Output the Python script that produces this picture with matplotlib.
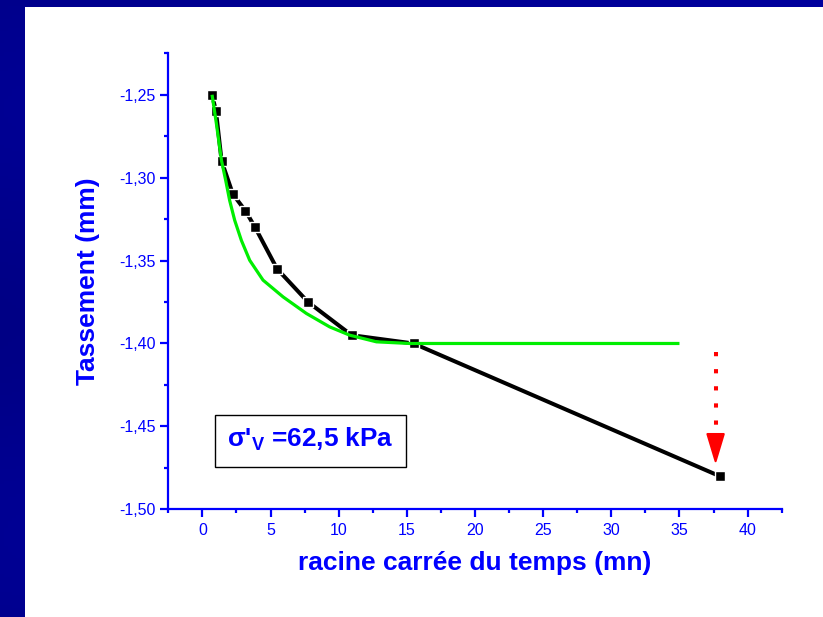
import matplotlib
matplotlib.use('Agg')
import matplotlib.pyplot as plt
import numpy as np
from matplotlib.patches import Rectangle, Polygon
from matplotlib.ticker import FixedLocator, FixedFormatter, MultipleLocator

plt.rcParams['font.family'] = ['Liberation Sans', 'DejaVu Sans']
plt.rcParams['mathtext.fontset'] = 'custom'
plt.rcParams['mathtext.rm'] = 'Liberation Sans:bold'
plt.rcParams['mathtext.bf'] = 'Liberation Sans:bold'

# ---- data ----
sqrt_time = [0.71, 1.0, 1.41, 2.24, 3.16, 3.87, 5.48, 7.75, 10.95, 15.49, 37.95]
settlement = [-1.250, -1.260, -1.290, -1.310, -1.320, -1.330, -1.355, -1.375,
              -1.395, -1.400, -1.480]

fit_x = [0.71, 1.03, 1.40, 1.71, 2.0, 2.37, 2.86, 3.47, 4.45, 5.92, 7.63,
         9.34, 10.81, 12.77, 15.2, 35.0]
fit_y = [-1.250, -1.2675, -1.2896, -1.3016, -1.3137, -1.3257, -1.3378, -1.3498,
         -1.3618, -1.3719, -1.3819, -1.390, -1.395, -1.399, -1.400, -1.400]

x_ticks = [0, 5, 10, 15, 20, 25, 30, 35, 40]
x_tick_labels = ["0", "5", "10", "15", "20", "25", "30", "35", "40"]
y_ticks = [-1.25, -1.30, -1.35, -1.40, -1.45, -1.50]
y_tick_labels = ["-1,25", "-1,30", "-1,35", "-1,40", "-1,45", "-1,50"]

arrow_x = 37.65
arrow_y_start = -1.405
arrow_y_head = -1.4546
arrow_y_tip = -1.471

box_text = "σ'$_\\mathbf{V}$ =62,5 kPa"
x_label = "racine carrée du temps (mn)"
y_label = "Tassement (mm)"

BLUE = '#0000FF'

fig = plt.figure(figsize=(8.23, 6.17), dpi=100)
fig.patch.set_facecolor('#00008C')

# background gradient (slide frame)
bg = fig.add_axes([0, 0, 1, 1], zorder=-10)
gx = np.linspace(0, 1, 200)
gy = np.linspace(0, 1, 200)
GX, GY = np.meshgrid(gx, gy)
val = 0.5 + 0.3 * GX + 0.12 * np.sin(GY * 9)
img = np.zeros((200, 200, 3))
img[..., 2] = 0.44 + 0.22 * val
bg.imshow(img, aspect='auto', extent=[0, 1, 0, 1])
bg.axis('off')

white = fig.add_axes([25 / 823, 0, 1 - 25 / 823, 1 - 7 / 617], zorder=-5)
white.set_facecolor('white')
white.set_xticks([]); white.set_yticks([])
for s in white.spines.values():
    s.set_visible(False)

ax = fig.add_axes([168.3 / 823, (617 - 509.3) / 617, 613.4 / 823, 456 / 617])
ax.set_facecolor('none')

ax.plot(sqrt_time, settlement, color='black', lw=2.9, marker='s', ms=7.2,
        mfc='black', mec='white', mew=1.0, zorder=3, solid_joinstyle='round')
ax.plot(fit_x, fit_y, color='#00EE00', lw=2.3, zorder=4, solid_capstyle='butt',
        solid_joinstyle='round')

# red dotted arrow
ax.plot([arrow_x, arrow_x], [arrow_y_start, arrow_y_head], color='#FF0000', lw=2.9,
        linestyle=(0, (1.05, 3.2)), dash_capstyle='butt', zorder=5)
hw = 0.6
head = Polygon([[arrow_x - hw, arrow_y_head], [arrow_x + hw, arrow_y_head],
                [arrow_x, arrow_y_tip]], closed=True, color='#FF0000', zorder=5,
               joinstyle='round', lw=1.5)
ax.add_patch(head)

ax.set_xlim(-2.5, 42.5)
ax.set_ylim(-1.50, -1.225)

for side in ['top', 'right']:
    ax.spines[side].set_visible(False)
for side in ['left', 'bottom']:
    ax.spines[side].set_color(BLUE)
    ax.spines[side].set_linewidth(1.6)

ax.xaxis.set_major_locator(FixedLocator(x_ticks))
ax.xaxis.set_major_formatter(FixedFormatter(x_tick_labels))
ax.yaxis.set_major_locator(FixedLocator(y_ticks))
ax.yaxis.set_major_formatter(FixedFormatter(y_tick_labels))
ax.xaxis.set_minor_locator(MultipleLocator(2.5))
ax.yaxis.set_minor_locator(MultipleLocator(0.025))

ax.tick_params(which='major', direction='out', length=5.8, width=1.6, color=BLUE,
               labelcolor=BLUE, labelsize=11.5)
ax.tick_params(which='minor', direction='out', length=3.0, width=1.6, color=BLUE)
ax.tick_params(axis='x', which='major', pad=4)
ax.tick_params(axis='y', which='major', pad=3.5)

# text box
ax.add_patch(Rectangle((0.0761, 0.0928), 0.3875 - 0.0761, 0.2068 - 0.0928,
                       transform=ax.transAxes, fill=False, ec='black', lw=1.0, zorder=6))
ax.text((0.0761 + 0.3875) / 2, (0.0928 + 0.2068) / 2 + 0.003, box_text,
        transform=ax.transAxes, ha='center', va='center', color=BLUE,
        fontsize=18.8, fontweight='bold', zorder=7)

fig.text(475 / 823, 1 - 570 / 617, x_label, ha='center', va='baseline',
         color=BLUE, fontsize=19, fontweight='bold')
fig.text(88 / 823, 1 - 281 / 617, y_label, ha='center', va='center', rotation=90,
         color=BLUE, fontsize=19, fontweight='bold')

fig.savefig('out.png', dpi=100, facecolor=fig.get_facecolor())
